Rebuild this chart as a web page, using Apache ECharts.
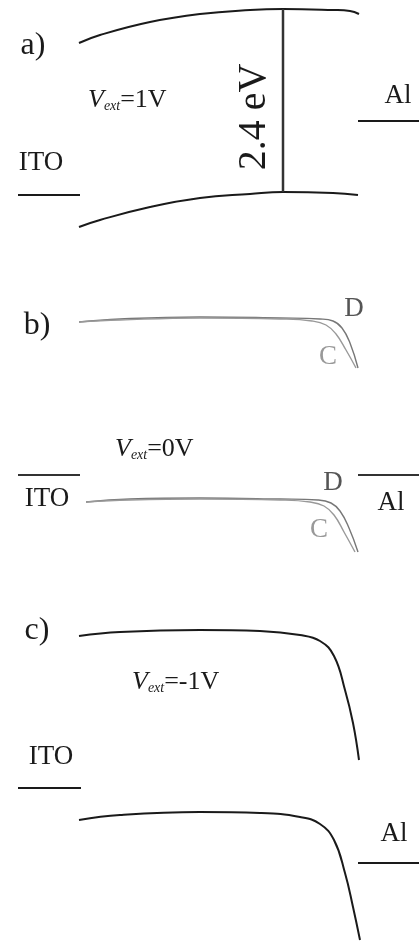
<!DOCTYPE html>
<html>
<head>
<meta charset="utf-8">
<script src="https://cdn.jsdelivr.net/npm/echarts@6/dist/echarts.min.js"></script>
<style>html,body{margin:0;padding:0;background:#fff;}#c{width:419px;height:942px;}</style>
</head>
<body>
<div id="c"></div>
<script>
// Position along device (x) and energy-diagram vertical coordinate (y, downwards)
const aUpper = [[79,43],[100,35],[150,22],[200,14],[250,10],[283,9],[333,10],[350,11],[359,14]];
const aLower = [[79,227],[100,220],[150,207],[200,198],[250,194],[283,192],[333,193],[358,195]];
const aGap = [[283,9],[283,192]];
const aITO = [[18,195],[80,195]];
const aAl = [[358,121],[419,121]];

const bUpperD = [[79,322],[120,319],[200,317],[280,318],[320,319],[333,321],[342,328],[350,343],[358,368]];
const bUpperC = [[79,322],[120,320],[200,318],[280,319],[312,321],[326,325],[336,334],[346,350],[356,368]];
const bLowerD = [[86,502],[130,499],[200,498],[280,499],[318,500],[331,503],[340,511],[349,528],[358,552]];
const bLowerC = [[86,502],[130,500],[200,499],[280,500],[310,502],[324,506],[334,515],[344,532],[355,552]];
const bITO = [[18,475],[80,475]];
const bAl = [[358,475],[419,475]];

const cUpper = [[79,636],[120,632],[200,630],[260,631],[300,635],[320,641],[334,656],[345,690],[353,723],[359,760]];
const cLower = [[79,820],[120,815],[200,812],[260,813],[300,817],[320,824],[334,840],[345,873],[353,907],[360,940]];
const cITO = [[18,788],[81,788]];
const cAl = [[358,863],[419,863]];

const chart = echarts.init(document.getElementById('c'), null, {renderer: 'canvas'});

function line(data, color, width, smooth) {
  return {
    type: 'line', data: data, symbol: 'none', silent: true,
    smooth: smooth ? 0.45 : false,
    lineStyle: {color: color, width: width},
    animation: false
  };
}

const K = '#1a1a1a';
const serif = '"Liberation Serif", "DejaVu Serif", serif';

function txt(x, y, text, size, color, extra) {
  return Object.assign({
    type: 'text', x: x, y: y, silent: true,
    style: {text: text, font: size + 'px ' + serif, fill: color || K, align: 'center', verticalAlign: 'middle'}
  }, extra || {});
}

function vext(x, y, rest) {
  return {
    type: 'text', x: x, y: y, silent: true,
    style: {
      text: '{v|V}{s|ext}{n|' + rest + '}',
      align: 'left', verticalAlign: 'middle',
      rich: {
        v: {fontFamily: serif, fontStyle: 'italic', fontSize: 26, fill: K, verticalAlign: 'bottom', lineHeight: 30},
        s: {fontFamily: serif, fontStyle: 'italic', fontSize: 14, fill: K, verticalAlign: 'bottom', lineHeight: 22},
        n: {fontFamily: serif, fontSize: 26, fill: K, verticalAlign: 'bottom', lineHeight: 30}
      }
    }
  };
}

chart.setOption({
  animation: false,
  grid: {left: 0, right: 0, top: 0, bottom: 0},
  xAxis: {type: 'value', min: 0, max: 419, show: false},
  yAxis: {type: 'value', min: 0, max: 942, inverse: true, show: false},
  series: [
    line(aUpper, K, 2, true), line(aLower, K, 2, true), line(aGap, '#333', 2.5, false),
    line(aITO, K, 2, false), line(aAl, K, 2, false),
    line(bUpperD, '#777', 1.4, true), line(bUpperC, '#999', 1.4, true),
    line(bLowerD, '#777', 1.4, true), line(bLowerC, '#999', 1.4, true),
    line(bITO, '#333', 2, false), line(bAl, '#333', 2, false),
    line(cUpper, K, 2, true), line(cLower, K, 2, true),
    line(cITO, K, 2, false), line(cAl, K, 2, false)
  ],
  graphic: [
    txt(33, 46, 'a)', 32),
    txt(41, 163, 'ITO', 27),
    txt(398, 96, 'Al', 27),
    txt(254, 117, '2.4 eV', 40, K, {rotation: Math.PI / 2}),
    vext(88, 98, '=1V'),
    txt(37, 326, 'b)', 32),
    txt(354, 309, 'D', 27, '#555'),
    txt(328, 357, 'C', 27, '#999'),
    vext(115, 447, '=0V'),
    txt(47, 499, 'ITO', 27),
    txt(333, 483, 'D', 27, '#555'),
    txt(391, 503, 'Al', 27),
    txt(319, 530, 'C', 27, '#999'),
    txt(37, 631, 'c)', 32),
    vext(132, 680, '=-1V'),
    txt(51, 757, 'ITO', 27),
    txt(394, 834, 'Al', 27)
  ]
});
</script>
</body>
</html>
